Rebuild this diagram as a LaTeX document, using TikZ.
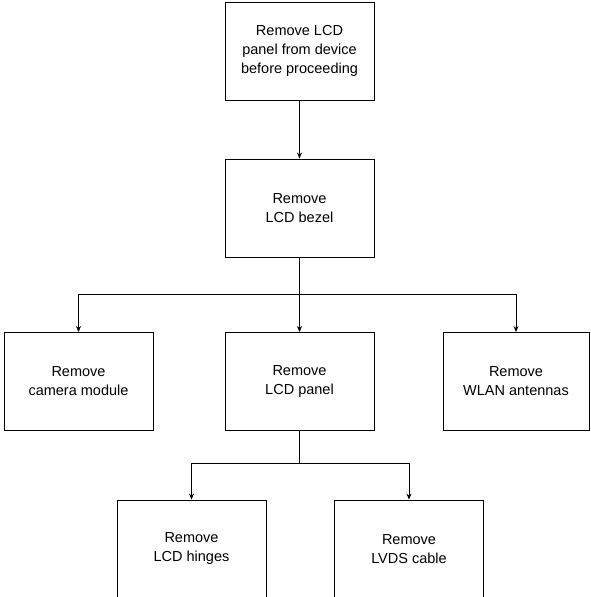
\documentclass[tikz,border=0pt]{standalone}
\usepackage{fontspec}
\setmainfont{Liberation Sans}
\usetikzlibrary{arrows.meta}
\begin{document}
\begin{tikzpicture}[x=1pt,y=1pt,
  box/.style={draw, line width=0.9pt, minimum width=149pt, minimum height=98pt, align=center, inner sep=0pt,
    font=\fontsize{14.5}{19}\selectfont},
  conn/.style={line width=0.8pt},
  arr/.style={conn, -{Stealth[length=6pt,width=5pt]}}]
\useasboundingbox (0,0) rectangle (590,597);
\node[box] (a) at (299.5,546) {Remove LCD\\panel from device\\before proceeding};
\node[box] (b) at (299.5,389) {Remove\\LCD bezel};
\node[box] (c) at (78.5,215.5) {Remove\\camera module};
\node[box] (d) at (299.5,215.5) {Remove\\LCD panel};
\node[box, minimum width=146pt] (e) at (516,215.5) {Remove\\WLAN antennas};
\node[box] (f) at (191.5,48) {Remove\\LCD hinges};
\node[box] (g) at (409,48) {Remove\\LVDS cable};
\coordinate (j1) at (299.5,303);
\coordinate (j2) at (299.5,134);
\draw[arr] (a) -- (b);
\draw[conn] (b.south) -- (j1);
\draw[arr] (j1) -| (c.north);
\draw[arr] (j1) -- (d.north);
\draw[arr] (j1) -| (e.north);
\draw[conn] (d.south) -- (j2);
\draw[arr] (j2) -| (f.north);
\draw[arr] (j2) -| (g.north);
\end{tikzpicture}
\end{document}
